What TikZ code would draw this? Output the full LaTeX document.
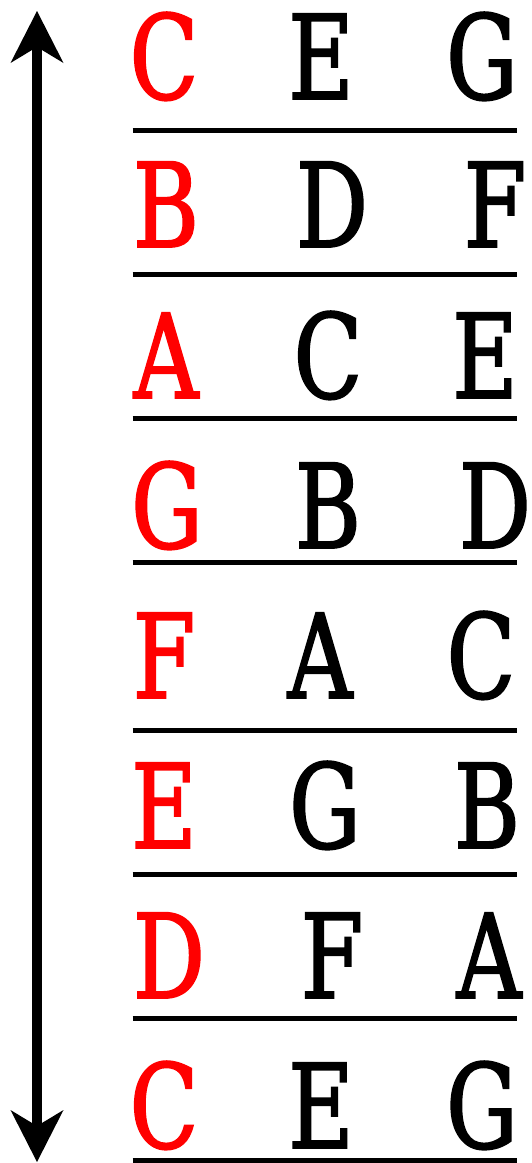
\documentclass[tikz,border=0pt]{standalone}
\usepackage{fontspec}
\setmainfont[FakeStretch=0.85,FakeBold=1.6]{DejaVu Serif Condensed}
\usetikzlibrary{arrows.meta}
\begin{document}
\begin{tikzpicture}[x=1pt,y=-1pt,
  letter/.style={inner sep=0pt, outer sep=0pt, anchor=base, text=black,
                 font=\fontsize{117}{117}\selectfont},
  rootletter/.style={letter, text=red},
  rulestyle/.style={line width=5pt, line cap=butt},
  axisstyle/.style={line width=10.5pt,
     {Stealth[length=52pt,width=53pt,inset=16pt,line width=0pt]}-{Stealth[length=52pt,width=53pt,inset=16pt,line width=0pt]}}]
\useasboundingbox (0,0) rectangle (531,1163);
% rows: index / baseline / rule y / root / x / third / x / fifth / x
\foreach \i/\b/\r/\la/\xa/\lb/\xb/\lc/\xc in {
  1/99/130/C/164/E/321/G/482,
  2/247/274/B/166/D/332/F/495,
  3/398/418/A/166/C/328/E/485,
  4/548/562.5/G/167/B/328/D/495,
  5/698/730.5/F/164/A/320/C/481,
  6/848/874/E/164/G/325/B/487,
  7/998/1018.5/D/169/F/332/A/489,
  8/1148/1160.5/C/164/E/321/G/482}{
  \node[rootletter] (r\i a) at (\xa,\b) {\la};
  \node[letter] (r\i b) at (\xb,\b) {\lb};
  \node[letter] (r\i c) at (\xc,\b) {\lc};
  \coordinate (rule\i l) at (132.7,\r);
  \coordinate (rule\i r) at (516.7,\r);
  \draw[rulestyle] (rule\i l) -- (rule\i r);
}
\coordinate (axistop) at (37,11);
\coordinate (axisbot) at (37,1162);
\draw[axisstyle] (axistop) -- (axisbot);
\end{tikzpicture}
\end{document}
